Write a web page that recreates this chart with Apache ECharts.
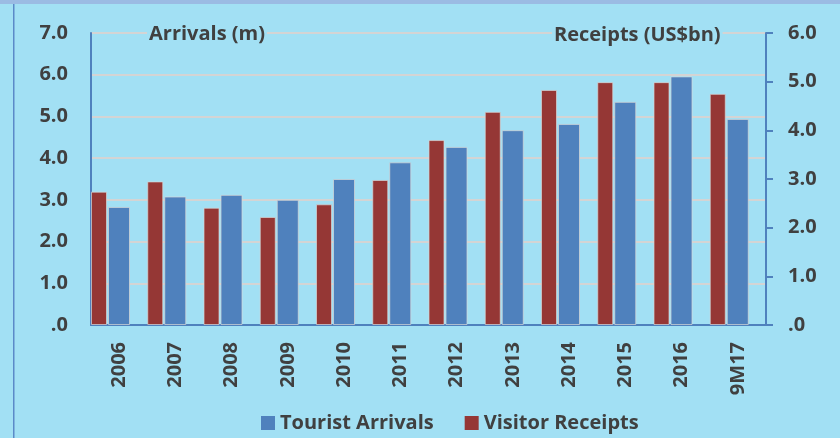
<!DOCTYPE html>
<html>
<head>
<meta charset="utf-8">
<script src="https://cdn.jsdelivr.net/npm/echarts@6/dist/echarts.min.js"></script>
<style>
  html, body { margin: 0; padding: 0; background: #a2e0f4; }
  #chart { width: 840px; height: 438px; }
</style>
</head>
<body>
<div id="chart"></div>
<script>
const categories = ["2006", "2007", "2008", "2009", "2010", "2011", "2012", "2013", "2014", "2015", "2016", "9M17"];
// Tourist arrivals (m), left axis
const arrivals = [2.83, 3.08, 3.12, 3.0, 3.5, 3.9, 4.27, 4.67, 4.82, 5.35, 5.96, 4.94];
// Visitor receipts (US$bn), right axis
const receipts = [2.74, 2.95, 2.41, 2.22, 2.48, 2.98, 3.8, 4.38, 4.83, 4.99, 4.99, 4.75];
const arrivalTicks = { min: 0, max: 7, interval: 1 };
const receiptTicks = { min: 0, max: 6, interval: 1 };

const font = '"Open Sans", "Liberation Sans", sans-serif';
const textColor = "#404040";
const axisBlue = "#4f81bd";
const bg = "#a2e0f4";
const tickLabel = (v) => (v === 0 ? ".0" : v.toFixed(1));

const chart = echarts.init(document.getElementById("chart"));
chart.setOption({
  backgroundColor: bg,
  animation: false,
  textStyle: { fontFamily: font },
  grid: { left: 91, right: 74, top: 33, bottom: 113, containLabel: false },
  legend: {
    data: ["Tourist Arrivals", "Visitor Receipts"],
    left: 256,
    top: 408,
    itemWidth: 14,
    itemHeight: 14,
    itemGap: 31,
    icon: "rect",
    itemStyle: { borderWidth: 0 },
    textStyle: { color: textColor, fontSize: 20, fontWeight: "bold", fontFamily: font }
  },
  graphic: [
    { type: "rect", shape: { x: 0, y: 0, width: 840, height: 4 }, style: { fill: "#9bbbe3" }, silent: true },
    { type: "rect", shape: { x: 13, y: 4, width: 1.5, height: 434 }, style: { fill: "#5b8ac8" }, silent: true },
    {
      type: "text", x: 147, y: 34, z: 100,
      style: {
        text: "Arrivals (m)", fill: textColor, fontSize: 20, fontWeight: "bold", fontFamily: font,
        verticalAlign: "middle", backgroundColor: bg, padding: [0, 2]
      }
    },
    {
      type: "text", x: 552, y: 35, z: 100,
      style: {
        text: "Receipts (US$bn)", fill: textColor, fontSize: 20, fontWeight: "bold", fontFamily: font,
        verticalAlign: "middle", backgroundColor: bg, padding: [0, 2]
      }
    }
  ],
  xAxis: {
    type: "category",
    data: categories,
    axisLine: { lineStyle: { color: axisBlue, width: 2 } },
    axisTick: { show: false },
    axisLabel: { rotate: 90, margin: 17, color: textColor, fontSize: 20, fontWeight: "bold", fontFamily: font }
  },
  yAxis: [
    {
      type: "value",
      ...arrivalTicks,
      axisLine: { show: true, lineStyle: { color: axisBlue, width: 2 } },
      axisTick: { show: false },
      axisLabel: { formatter: tickLabel, margin: 23, color: textColor, fontSize: 20, fontWeight: "bold", fontFamily: font },
      splitLine: { lineStyle: { color: "#d4d4d4", width: 2 } }
    },
    {
      type: "value",
      ...receiptTicks,
      position: "right",
      axisLine: { show: true, lineStyle: { color: axisBlue, width: 2 } },
      axisTick: { show: true, length: 7, lineStyle: { color: axisBlue, width: 2 } },
      axisLabel: { formatter: tickLabel, margin: 22, color: textColor, fontSize: 20, fontWeight: "bold", fontFamily: font },
      splitLine: { show: false }
    }
  ],
  series: [
    {
      name: "Visitor Receipts",
      type: "bar",
      yAxisIndex: 1,
      barWidth: 16,
      barGap: "6.25%",
      data: receipts,
      itemStyle: { color: "#953735", borderColor: "rgba(215,215,215,0.7)", borderWidth: 1 }
    },
    {
      name: "Tourist Arrivals",
      type: "bar",
      yAxisIndex: 0,
      barWidth: 22,
      barGap: "6.25%",
      data: arrivals,
      itemStyle: { color: "#4f81bd", borderColor: "rgba(215,215,215,0.7)", borderWidth: 1 }
    },
    {
      // empty spacer so the pair sits at the left of each category, as in the source
      name: "",
      type: "bar",
      barWidth: 15.875,
      barGap: "6.25%",
      silent: true,
      data: categories.map(() => null)
    }
  ]
});
</script>
</body>
</html>
